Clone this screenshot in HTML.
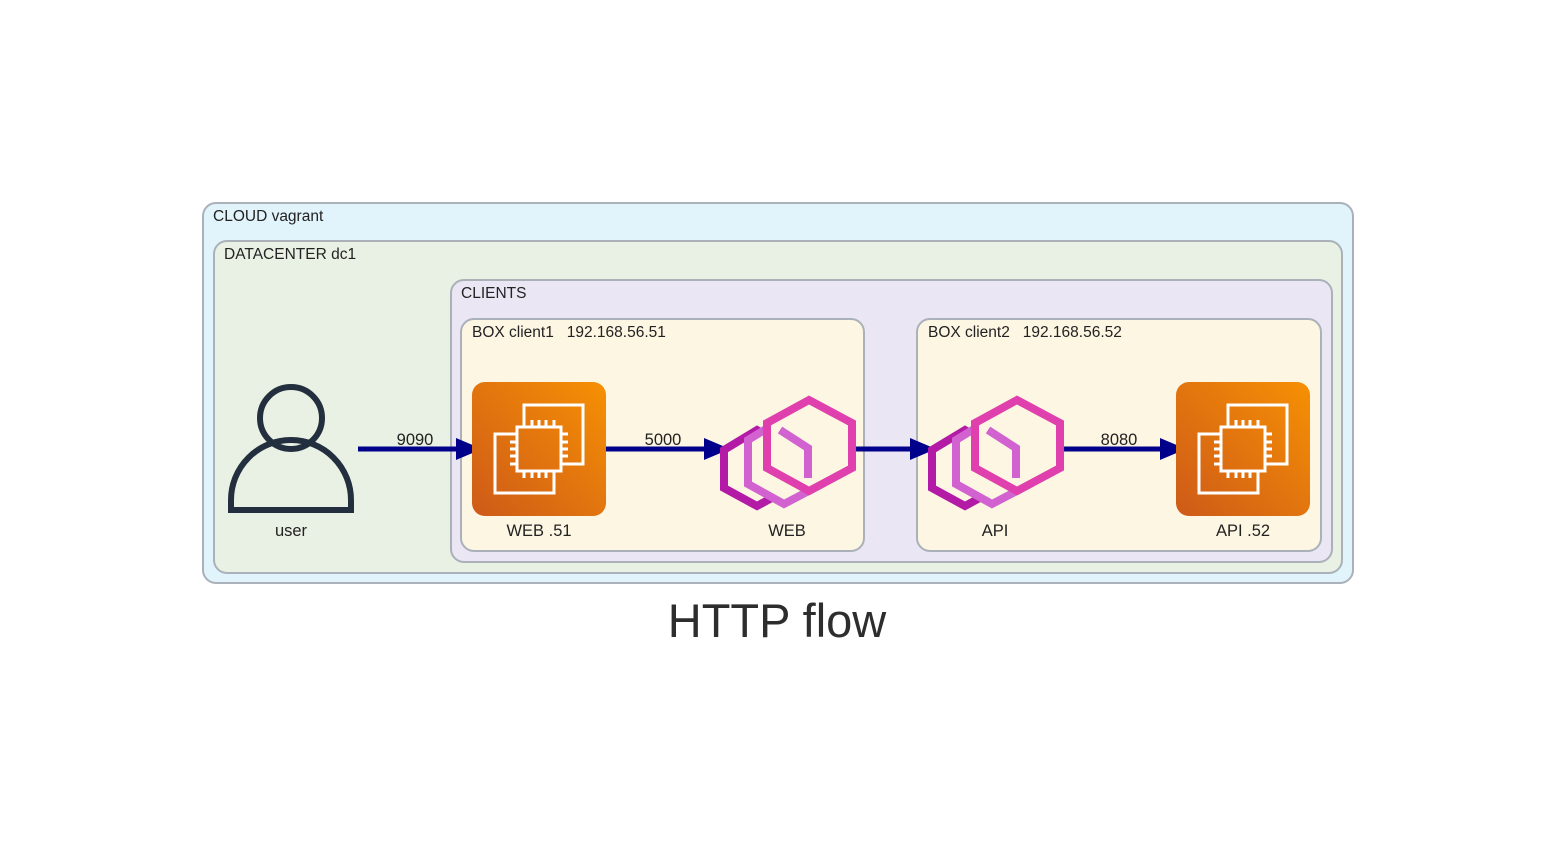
<!DOCTYPE html>
<html><head><style>body{margin:0;background:#fff}svg{display:block}</style></head><body>
<svg width="1556" height="849" viewBox="0 0 1556 849" xmlns="http://www.w3.org/2000/svg" font-family="Liberation Sans, sans-serif">
<defs>
<linearGradient id="og" x1="0" y1="1" x2="1" y2="0"><stop offset="0" stop-color="#cd5a18"/><stop offset="1" stop-color="#f79004"/></linearGradient>
<g id="ec2">
<rect x="0" y="0" width="134" height="134" rx="13" fill="url(#og)"/>
<g fill="none" stroke="#fff" stroke-width="3">
<path d="M52 40 V23 H111 V82 H95"/>
<path d="M40 52 H23 V111 H82 V95"/>
<rect x="45" y="45" width="44" height="44"/>
<path d="M52 45v-7M60 45v-7M67 45v-7M74 45v-7M82 45v-7M52 89v7M60 89v7M67 89v7M74 89v7M82 89v7M45 52h-7M45 60h-7M45 67h-7M45 74h-7M45 82h-7M89 52h7M89 60h7M89 67h7M89 74h7M89 82h7"/>
</g>
</g>
<g id="envoy">
<polygon points="37,30 70,50 70,88 37,106 4,88 4,50" fill="#fdf6e3" stroke="#b31aa5" stroke-width="8"/>
<polygon points="64,18 102,40 102,84 64,104 28,84 28,40" fill="#fdf6e3" stroke="#d262d0" stroke-width="8"/>
<polygon points="89,0 132,23 132,68 89,91 47,68 47,23" fill="#fdf6e3" stroke="#e040ad" stroke-width="8"/>
<path d="M60 30 L88 48 V78" fill="none" stroke="#d262d0" stroke-width="8"/>
</g>
</defs>
<g stroke="#aab1b9" stroke-width="2">
<rect x="203" y="203" width="1150" height="380" rx="13" fill="#e1f3fb"/>
<rect x="214" y="241" width="1128" height="332" rx="13" fill="#e9f1e4"/>
<rect x="451" y="280" width="881" height="282" rx="13" fill="#ebe6f4"/>
<rect x="461" y="319" width="403" height="232" rx="13" fill="#fdf6e3"/>
<rect x="917" y="319" width="404" height="232" rx="13" fill="#fdf6e3"/>
</g>
<g font-size="15.5" fill="#222">
<text x="213" y="221">CLOUD vagrant</text>
<text x="224" y="259">DATACENTER dc1</text>
<text x="461" y="298">CLIENTS</text>
<text x="472" y="337">BOX client1 &#160; 192.168.56.51</text>
<text x="928" y="337">BOX client2 &#160; 192.168.56.52</text>
</g>
<g fill="none" stroke="#232f3e" stroke-width="6">
<circle cx="291" cy="418" r="31"/>
<path d="M231 510 V500 A60 60 0 0 1 351 500 V510 Z"/>
</g>
<g stroke="#00008b" stroke-width="5" fill="none">
<line x1="358" y1="449" x2="458" y2="449"/>
<line x1="606" y1="449" x2="706" y2="449"/>
<line x1="855" y1="449" x2="912" y2="449"/>
<line x1="1062" y1="449" x2="1162" y2="449"/>
</g>
<g fill="#00008b">
<path d="M456 438 L482 449 L456 460z"/>
<path d="M704 438 L730 449 L704 460z"/>
<path d="M910 438 L936 449 L910 460z"/>
<path d="M1160 438 L1186 449 L1160 460z"/>
</g>
<use href="#ec2" x="472" y="382"/>
<use href="#ec2" x="1176" y="382"/>
<use href="#envoy" x="720" y="400"/>
<use href="#envoy" x="928" y="400"/>
<g font-size="16.5" fill="#222" text-anchor="middle">
<text x="415" y="445">9090</text>
<text x="663" y="445">5000</text>
<text x="1119" y="445">8080</text>
<text x="291" y="536">user</text>
<text x="539" y="536">WEB .51</text>
<text x="787" y="536">WEB</text>
<text x="995" y="536">API</text>
<text x="1243" y="536">API .52</text>
</g>
<text x="777" y="637" font-size="47" fill="#2d2d2d" text-anchor="middle">HTTP flow</text>
</svg>
</body></html>
